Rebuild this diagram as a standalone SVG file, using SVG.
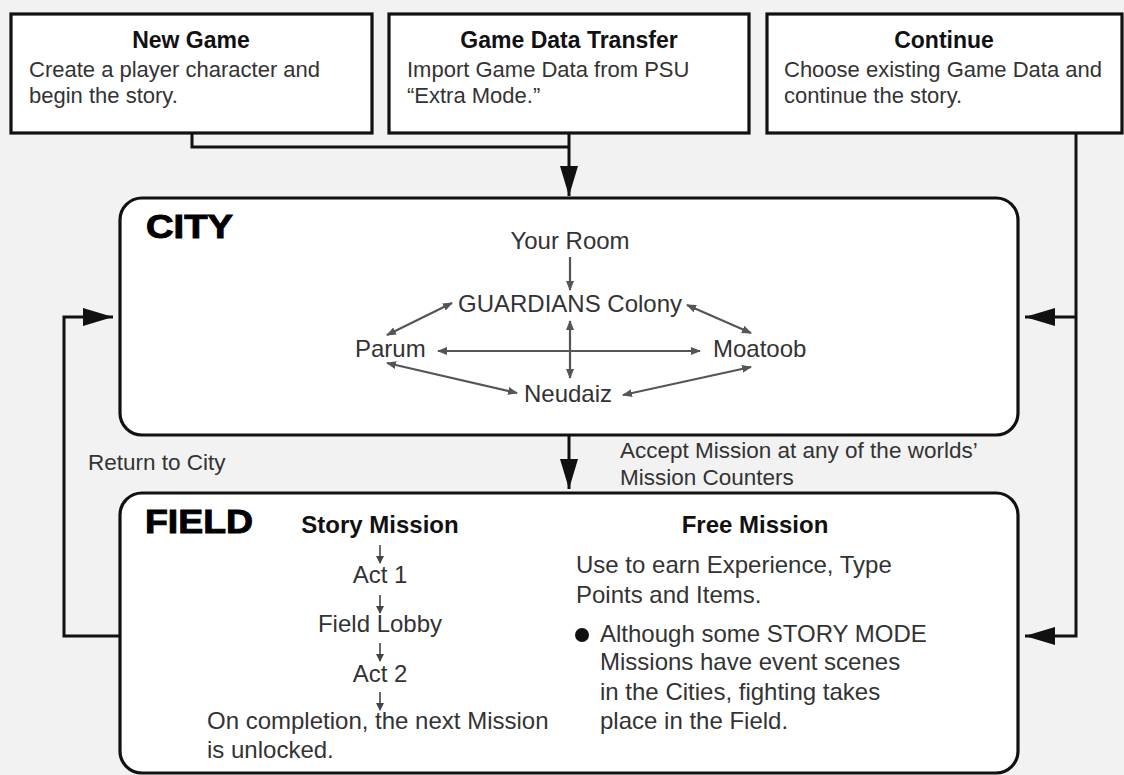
<svg xmlns="http://www.w3.org/2000/svg" width="1124" height="775" viewBox="0 0 1124 775">
<defs>
<style>
.box{fill:#ffffff;stroke:#111;stroke-width:3.2}
.conn{fill:none;stroke:#111;stroke-width:3}
.thin{fill:none;stroke:#555;stroke-width:2.2}
.tiny{fill:none;stroke:#444;stroke-width:1.6}
.h{font-family:"Liberation Sans",Arial,sans-serif;font-weight:bold;font-size:23px;fill:#111}
.b{font-family:"Liberation Sans",Arial,sans-serif;font-size:22px;fill:#333}
.c{font-family:"Liberation Sans",Arial,sans-serif;font-size:24px;fill:#333}
.big{font-family:"Liberation Sans",Arial,sans-serif;font-weight:bold;font-size:34px;fill:#000;stroke:#000;stroke-width:1}
.mid{text-anchor:middle}
</style>
<marker id="ah" markerUnits="userSpaceOnUse" markerWidth="30" markerHeight="18" refX="30" refY="9" orient="auto">
<path d="M0,0 L30,9 L0,18 z" fill="#111"/>
</marker>
<marker id="sh" markerUnits="userSpaceOnUse" markerWidth="10" markerHeight="8" refX="9" refY="4" orient="auto-start-reverse">
<path d="M0,0 L10,4 L0,8 z" fill="#555"/>
</marker>
<marker id="th" markerUnits="userSpaceOnUse" markerWidth="8" markerHeight="8" refX="7" refY="4" orient="auto">
<path d="M0,0 L8,4 L0,8 z" fill="#444"/>
</marker>
</defs>
<rect width="1124" height="775" fill="#f2f2f2"/>

<g id="connectors">
<polyline class="conn" points="192,133 192,147 569,147"/>
<line class="conn" x1="569" y1="133" x2="569" y2="196" marker-end="url(#ah)"/>
<polyline class="conn" points="1076,133 1076,636 1025,636" marker-end="url(#ah)"/>
<line class="conn" x1="1076" y1="317" x2="1025" y2="317" marker-end="url(#ah)"/>
<line class="conn" x1="569" y1="435" x2="569" y2="489" marker-end="url(#ah)"/>
<polyline class="conn" points="120,636 64,636 64,317 113,317" marker-end="url(#ah)"/>
</g>

<g id="new-game">
<rect class="box" x="11" y="14" width="361" height="119"/>
<text class="h mid" x="191" y="48">New Game</text>
<text class="b" x="29" y="77">Create a player character and</text>
<text class="b" x="29" y="103">begin the story.</text>
</g>

<g id="game-data-transfer">
<rect class="box" x="389" y="14" width="360" height="119"/>
<text class="h mid" x="569" y="48">Game Data Transfer</text>
<text class="b" x="407" y="77">Import Game Data from PSU</text>
<text class="b" x="407" y="103">“Extra Mode.”</text>
</g>

<g id="continue">
<rect class="box" x="767" y="14" width="355" height="119"/>
<text class="h mid" x="944" y="48">Continue</text>
<text class="b" x="784" y="77">Choose existing Game Data and</text>
<text class="b" x="784" y="103">continue the story.</text>
</g>

<g id="city">
<rect class="box" x="120" y="198" width="898" height="237" rx="22" ry="22"/>
<text class="big" x="146" y="238" textLength="87" lengthAdjust="spacingAndGlyphs">CITY</text>
<text class="c mid" x="570" y="249">Your Room</text>
<text class="c mid" x="570" y="312">GUARDIANS Colony</text>
<text class="c" x="355" y="357">Parum</text>
<text class="c" x="713" y="357">Moatoob</text>
<text class="c mid" x="568" y="402">Neudaiz</text>
<line class="thin" x1="570" y1="257" x2="570" y2="290" marker-end="url(#sh)"/>
<line class="thin" x1="570" y1="321" x2="570" y2="378" marker-start="url(#sh)" marker-end="url(#sh)"/>
<line class="thin" x1="438" y1="351" x2="700" y2="351" marker-start="url(#sh)" marker-end="url(#sh)"/>
<line class="thin" x1="387" y1="335" x2="452" y2="303" marker-start="url(#sh)" marker-end="url(#sh)"/>
<line class="thin" x1="687" y1="305" x2="751" y2="333" marker-start="url(#sh)" marker-end="url(#sh)"/>
<line class="thin" x1="387" y1="363" x2="517" y2="393" marker-start="url(#sh)" marker-end="url(#sh)"/>
<line class="thin" x1="623" y1="395" x2="751" y2="367" marker-start="url(#sh)" marker-end="url(#sh)"/>
</g>

<g id="labels">
<text class="b" x="88" y="470" style="font-size:22.5px">Return to City</text>
<text class="b" x="620" y="458" style="font-size:22.5px">Accept Mission at any of the worlds’</text>
<text class="b" x="620" y="485" style="font-size:22.5px">Mission Counters</text>
</g>

<g id="field">
<rect class="box" x="120" y="493" width="898" height="280" rx="22" ry="22"/>
<text class="big" x="145" y="533" textLength="108" lengthAdjust="spacingAndGlyphs">FIELD</text>
<text class="h mid" x="380" y="533" style="font-size:24px">Story Mission</text>
<text class="c mid" x="380" y="583">Act 1</text>
<text class="c mid" x="380" y="632">Field Lobby</text>
<text class="c mid" x="380" y="682">Act 2</text>
<text class="c" x="207" y="729">On completion, the next Mission</text>
<text class="c" x="207" y="758">is unlocked.</text>
<line class="tiny" x1="380" y1="545" x2="380" y2="563" marker-end="url(#th)"/>
<line class="tiny" x1="380" y1="595" x2="380" y2="613" marker-end="url(#th)"/>
<line class="tiny" x1="380" y1="643" x2="380" y2="661" marker-end="url(#th)"/>
<line class="tiny" x1="380" y1="692" x2="380" y2="710" marker-end="url(#th)"/>
<text class="h mid" x="755" y="533" style="font-size:24px">Free Mission</text>
<text class="c" x="576" y="573">Use to earn Experience, Type</text>
<text class="c" x="576" y="603">Points and Items.</text>
<circle cx="582" cy="635" r="7" fill="#111"/>
<text class="c" x="600" y="642">Although some STORY MODE</text>
<text class="c" x="600" y="670">Missions have event scenes</text>
<text class="c" x="600" y="700">in the Cities, fighting takes</text>
<text class="c" x="600" y="729">place in the Field.</text>
</g>
</svg>
